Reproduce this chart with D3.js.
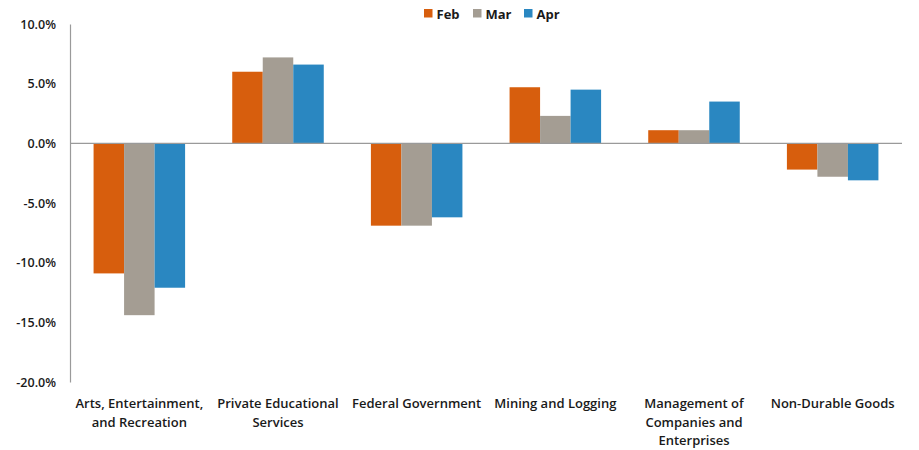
<!DOCTYPE html>
<html><head><meta charset="utf-8">
<script src="https://cdn.jsdelivr.net/npm/d3@7/dist/d3.min.js"></script>
<style>body{margin:0;background:#fff;}svg{display:block;font-family:"Open Sans",sans-serif;}</style>
</head><body><svg id="c" width="919" height="450"></svg>
<script>
const categories = ["Arts, Entertainment,\nand Recreation","Private Educational\nServices","Federal Government","Mining and Logging","Management of\nCompanies and\nEnterprises","Non-Durable Goods"];
const seriesNames = ["Feb","Mar","Apr"];
const feb = [-10.9, 6.0, -6.9, 4.7, 1.1, -2.2];
const mar = [-14.4, 7.2, -6.9, 2.3, 1.1, -2.8];
const apr = [-12.1, 6.6, -6.2, 4.5, 3.5, -3.1];
const yTicks = [10, 5, 0, -5, -10, -15, -20];
const colors = ["#D75E0D", "#A49D93", "#2A87C1"];

(function(){
const svg = d3.select("#c");
const mLeft = 70, mRight = 902, mTop = 24, mBottom = 382;
const y = d3.scaleLinear().domain([-20, 10]).range([mBottom, mTop]);
const x0 = d3.scaleBand().domain(d3.range(categories.length)).range([mLeft, mRight]).paddingInner(0.34).paddingOuter(0.17);
const x1 = d3.scaleBand().domain(seriesNames).range([0, x0.bandwidth()]).padding(0);
const series = [feb, mar, apr];

const yAxis = d3.axisLeft(y).tickValues(yTicks).tickSize(0).tickPadding(14).tickFormat(d => d.toFixed(1) + "%");
const ga = svg.append("g").attr("transform", `translate(${mLeft},0)`).call(yAxis);
ga.select(".domain").attr("stroke", "#9a9a9a").attr("stroke-width", 1.2);
ga.selectAll("text").attr("font-size", 12.5).attr("font-weight", 600).attr("fill", "#1a1a1a").attr("font-family", "'Open Sans',sans-serif");

const g = svg.append("g");
categories.forEach((c, i) => {
  seriesNames.forEach((s, j) => {
    const v = series[j][i];
    g.append("rect")
      .attr("x", x0(i) + x1(s))
      .attr("width", x1.bandwidth())
      .attr("y", y(Math.max(0, v)))
      .attr("height", Math.abs(y(v) - y(0)))
      .attr("fill", colors[j]);
  });
});

svg.append("line").attr("x1", mLeft).attr("x2", mRight).attr("y1", y(0)).attr("y2", y(0))
  .attr("stroke", "#9a9a9a").attr("stroke-width", 1.2);

categories.forEach((c, i) => {
  const t = svg.append("text").attr("text-anchor", "middle")
    .attr("font-size", 13).attr("font-weight", 600).attr("fill", "#1a1a1a");
  c.split("\n").forEach((line, k) => {
    t.append("tspan").attr("x", x0(i) + x0.bandwidth() / 2).attr("y", 408 + k * 18.5).text(line);
  });
});

const legX = [424, 473, 524];
seriesNames.forEach((s, j) => {
  svg.append("rect").attr("x", legX[j]).attr("y", 9).attr("width", 8.5).attr("height", 8.5).attr("fill", colors[j]);
  svg.append("text").attr("x", legX[j] + 12.5).attr("y", 18.5).attr("font-size", 13).attr("font-weight", 700).attr("fill", "#1a1a1a").text(s);
});
})();
</script></body></html>
